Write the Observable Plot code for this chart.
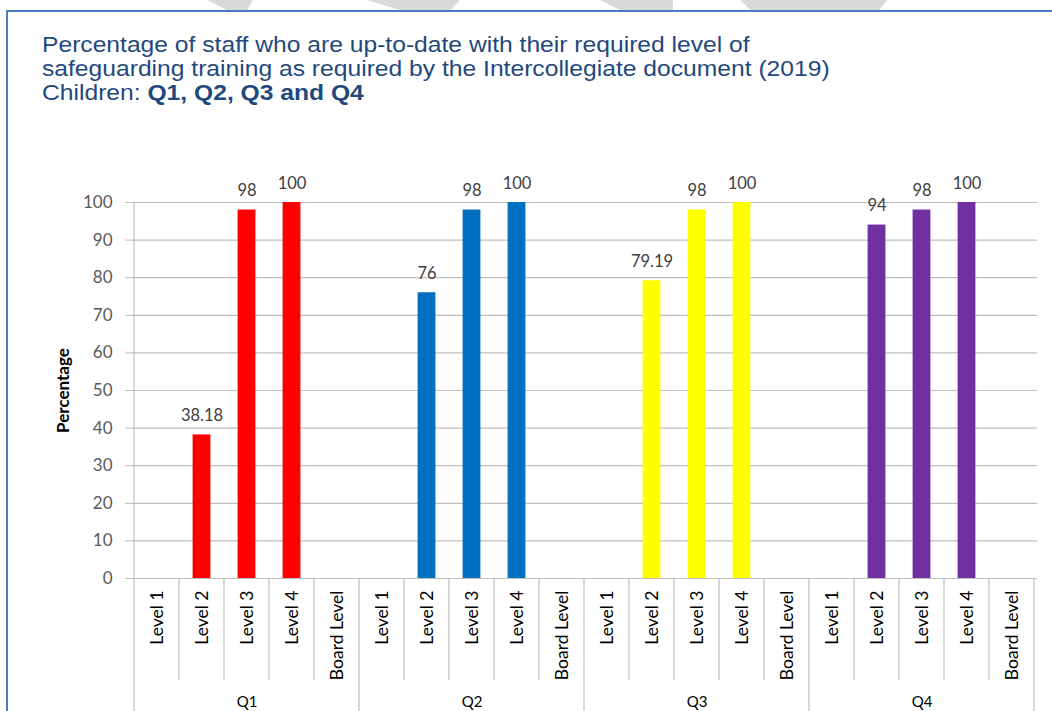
<!DOCTYPE html>
<html>
<head>
<meta charset="utf-8">
<script src="https://cdn.jsdelivr.net/npm/d3@7"></script>
<script src="https://cdn.jsdelivr.net/npm/@observablehq/plot@0.6"></script>
<style>
  html, body { margin: 0; padding: 0; background: #fff; }
  body { width: 1052px; height: 711px; position: relative; overflow: hidden; }
  .stripe { position: absolute; top: 0; height: 10px; background: #d9d9d9; }
  #frame { position: absolute; left: 6px; top: 10px; width: 1100px; height: 800px;
           border-left: 2px solid #4a7ebb; border-top: 2px solid #4a7ebb; background: #fff; }
  #title { position: absolute; left: 42px; top: 33px; font-family: "Liberation Sans", Arial, sans-serif;
           font-size: 22px; line-height: 24px; color: #1f497d; white-space: nowrap;
           transform: scaleX(1.12); transform-origin: left top; }
  #chart { position: absolute; left: 0; top: 160px; }
</style>
</head>
<body>
<div class="stripe" style="left:207px;width:46px;clip-path:polygon(0 0,100% 0,87% 100%,43% 100%)"></div>
<div class="stripe" style="left:367px;width:93px;clip-path:polygon(0 0,100% 0,90% 100%,35% 100%)"></div>
<div class="stripe" style="left:600px;width:73px;clip-path:polygon(0 0,100% 0,100% 100%,27% 100%)"></div>
<div class="stripe" style="left:740px;width:147px;clip-path:polygon(0 0,100% 0,95% 100%,7% 100%)"></div>
<div id="frame"></div>
<div id="title">Percentage of staff who are up-to-date with their required level of<br>safeguarding training as required by the Intercollegiate document (2019)<br>Children: <b>Q1, Q2, Q3 and Q4</b></div>
<div id="chart"></div>
<script>
// ---- data ----
const quarters = ["Q1", "Q2", "Q3", "Q4"];
const levels = ["Level 1", "Level 2", "Level 3", "Level 4", "Board Level"];
const q1Values = [null, 38.18, 98, 100, null];
const q2Values = [null, 76, 98, 100, null];
const q3Values = [null, 79.19, 98, 100, null];
const q4Values = [null, 94, 98, 100, null];
const quarterColors = ["#ff0000", "#0070c0", "#ffff00", "#7030a0"];
const yTicks = [0, 10, 20, 30, 40, 50, 60, 70, 80, 90, 100];

// ---- table ----
const series = [q1Values, q2Values, q3Values, q4Values];
const rows = [];
quarters.forEach((q, qi) => levels.forEach((l, li) => {
  rows.push({quarter: q, level: l, key: q + "|" + l, value: series[qi][li]});
}));
const keys = rows.map(d => d.key);
const present = rows.filter(d => d.value != null);

const W = 1052, H = 551, mL = 131, mR = 15, mT = 42, mB = 133;
const gridColor = "#bfbfbf";
const font = "Lato, 'Open Sans', sans-serif";

function separators(index, {x}, values, {height, marginBottom, marginTop}) {
  const g = d3.create("svg:g").attr("stroke", gridColor).attr("stroke-width", 1.2);
  const y0 = height - marginBottom;
  const bw = x.bandwidth();
  const xs = keys.map(k => x(k));
  xs.push(x(keys[keys.length - 1]) + bw);
  xs.forEach((xv, i) => {
    const major = i % levels.length === 0;
    const top = i === 0 ? marginTop : y0;
    const bottom = major ? height + 5 : y0 + 102;
    g.append("line").attr("x1", xv).attr("x2", xv).attr("y1", top).attr("y2", bottom);
  });
  return g.node();
}

const chart = Plot.plot({
  width: W, height: H,
  marginLeft: mL, marginRight: mR, marginTop: mT, marginBottom: mB,
  style: {fontFamily: font, background: "transparent", overflow: "hidden"},
  x: {domain: keys, padding: 0, label: null},
  y: {domain: [0, 100], label: null},
  color: {domain: quarters, range: quarterColors},
  marks: [
    Plot.ruleY(yTicks, {stroke: gridColor, strokeWidth: 1.2}),
    separators,
    Plot.barY(present, {x: "key", y: "value", fill: "quarter", insetLeft: 13.6, insetRight: 13.6}),
    Plot.text(present, {x: "key", y: "value", text: d => String(d.value), dy: -19, fontSize: 16.5, fill: "#404040"}),
    Plot.axisY({ticks: yTicks, tickSize: 6, tickPadding: 13, stroke: gridColor, fill: "#595959", fontSize: 17, label: null}),
    Plot.axisX({tickRotate: -90, tickSize: 0, tickPadding: 12, fontSize: 17.5, fill: "#000", label: null,
                tickFormat: k => k.split("|")[1]}),
    Plot.text(quarters, {x: q => q + "|Level 3", frameAnchor: "bottom", lineAnchor: "top", dy: 118, fontSize: 15, fill: "#000", text: q => q}),
    Plot.text(["Percentage"], {frameAnchor: "left", textAnchor: "middle", dx: -68, rotate: -90, fontWeight: "bold", fontSize: 17, fill: "#000", text: d => d})
  ]
});
document.getElementById("chart").appendChild(chart);
</script>
</body>
</html>
